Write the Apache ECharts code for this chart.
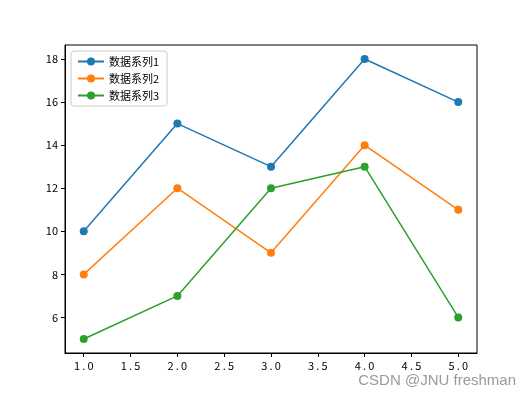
<!doctype html>
<html>
<head>
<meta charset="utf-8">
<script src="https://cdn.jsdelivr.net/npm/echarts@6/dist/echarts.min.js"></script>
<style>html,body{margin:0;padding:0;background:#fff}#main{width:530px;height:397px}</style>
</head>
<body>
<div id="main"></div>
<script>
var xValues = [1, 2, 3, 4, 5];
var series1 = [10, 15, 13, 18, 16];
var series2 = [8, 12, 9, 14, 11];
var series3 = [5, 7, 12, 13, 6];
var names = ['数据系列1', '数据系列2', '数据系列3'];
var xTicks = [1, 1.5, 2, 2.5, 3, 3.5, 4, 4.5, 5];
var yTicks = [6, 8, 10, 12, 14, 16, 18];
var colors = ['#1f77b4', '#ff7f0e', '#2ca02c'];

var chart = echarts.init(document.getElementById('main'), null, {renderer: 'canvas'});
var font = "'Noto Sans CJK SC', 'DejaVu Sans', sans-serif";

function pairs(vals) {
    return vals.map(function (v, i) { return [xValues[i], v]; });
}

chart.setOption({
    animation: false,
    color: colors,
    grid: {
        left: 65, right: 53, top: 45, bottom: 44,
        show: true, borderColor: '#000', borderWidth: 1, backgroundColor: 'transparent'
    },
    legend: {
        orient: 'vertical', left: 71, top: 51,
        padding: [5, 8, 5, 6], itemGap: 6, itemWidth: 26, itemHeight: 10,
        borderColor: '#cccccc', borderWidth: 1, borderRadius: 3, backgroundColor: '#fff',
        textStyle: {fontSize: 11, fontFamily: font, color: '#000'},
        data: names
    },
    xAxis: {
        type: 'value', min: 0.8, max: 5.2,
        axisLine: {show: true, lineStyle: {color: '#000'}},
        splitLine: {show: false},
        axisTick: {show: true, inside: false, length: 4, customValues: xTicks, lineStyle: {color: '#000'}},
        axisLabel: {customValues: xTicks, color: '#000', fontSize: 11, fontFamily: font, margin: 7,
            formatter: function (v) { return v.toFixed(1).split('').join('\u2009'); }}
    },
    yAxis: {
        type: 'value', min: 4.35, max: 18.65,
        axisLine: {show: true, lineStyle: {color: '#000'}},
        splitLine: {show: false},
        axisTick: {show: true, inside: false, length: 4, customValues: yTicks, lineStyle: {color: '#000'}},
        axisLabel: {customValues: yTicks, color: '#000', fontSize: 11, fontFamily: font, margin: 7}
    },
    graphic: [{
        type: 'text', right: 14, top: 373,
        style: {text: 'CSDN @JNU freshman', fill: '#999', font: "15px 'Liberation Sans', Arial, sans-serif"}
    }],
    series: [series1, series2, series3].map(function (vals, i) {
        return {
            name: names[i], type: 'line', data: pairs(vals),
            symbol: 'circle', symbolSize: 8,
            lineStyle: {width: 1.5, color: colors[i]},
            itemStyle: {color: colors[i]}
        };
    })
});
</script>
</body>
</html>
